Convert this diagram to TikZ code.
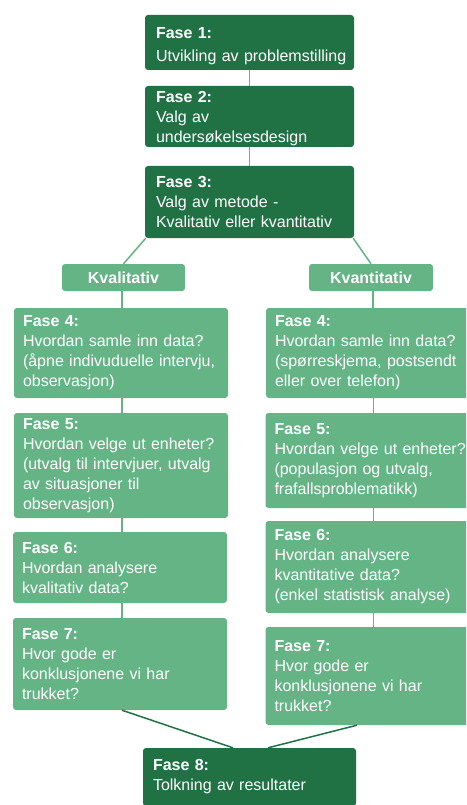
\documentclass[tikz,border=0pt]{standalone}
\usepackage{fontspec}
\setmainfont{Liberation Sans}
\usetikzlibrary{calc}
\definecolor{phasedark}{RGB}{32,114,69}
\definecolor{phaselight}{RGB}{100,180,133}
\begin{document}
\begin{tikzpicture}[x=1pt,y=-1pt,
  box/.style={rectangle, rounded corners=3pt, text=white, align=left,
    font=\fontsize{16}{20}\selectfont, inner ysep=0pt},
  darkbox/.style={box, fill=phasedark, inner xsep=11pt},
  lightbox/.style={box, fill=phaselight, inner xsep=9pt},
  tagbox/.style={rectangle, rounded corners=3pt, fill=phaselight, text=white,
    font=\fontsize{16}{20}\selectfont\bfseries, inner sep=0pt, align=center},
  link/.style={draw=phaselight, line width=1.5pt},
  darklink/.style={draw=phasedark, line width=1.5pt}]
\useasboundingbox (0,0) rectangle (466,805);
\clip (0,0) rectangle (466,805);

% common steps
\node[darkbox, text width=187pt, minimum height=55pt] (f1) at (249.5,42.5)
  {\rule{0pt}{18pt}\textbf{Fase 1:}\\[3pt]\mbox{Utvikling av problemstilling}};
\node[darkbox, text width=187pt, minimum height=61pt] (f2) at (249.5,116.5)
  {\rule{0pt}{16pt}\textbf{Fase 2:}\\Valg av\\undersøkelsesdesign};
\node[darkbox, text width=187pt, minimum height=72pt] (f3) at (249.5,202)
  {\textbf{Fase 3:}\\Valg av metode -\\Kvalitativ eller kvantitativ};

% branch labels
\node[tagbox, minimum width=123pt, minimum height=27pt] (kval) at (123.5,277.5) {Kvalitativ};
\node[tagbox, minimum width=124pt, minimum height=27pt] (kvan) at (371,277.5) {Kvantitativ};

% qualitative branch
\node[lightbox, text width=196pt, minimum height=90pt] (l4) at (121,353)
  {\textbf{Fase 4:}\\Hvordan samle inn data?\\(åpne indivuduelle intervju,\\observasjon)};
\node[lightbox, text width=196pt, minimum height=105pt] (l5) at (121,465.5)
  {\textbf{Fase 5:}\\Hvordan velge ut enheter?\\(utvalg til intervjuer, utvalg\\av situasjoner til\\observasjon)};
\node[lightbox, text width=196pt, minimum height=71pt] (l6) at (120,567.5)
  {\textbf{Fase 6:}\\Hvordan analysere\\kvalitativ data?};
\node[lightbox, text width=196pt, minimum height=92pt] (l7) at (120,664)
  {\textbf{Fase 7:}\\Hvor gode er\\konklusjonene vi har\\trukket?};

% quantitative branch
\node[lightbox, text width=197pt, minimum height=90pt] (r4) at (373.5,353)
  {\textbf{Fase 4:}\\Hvordan samle inn data?\\(spørreskjema, postsendt\\eller over telefon)};
\node[lightbox, text width=197pt, minimum height=95pt] (r5) at (373,460.5)
  {\textbf{Fase 5:}\\Hvordan velge ut enheter?\\(populasjon og utvalg,\\frafallsproblematikk)};
\node[lightbox, text width=197pt, minimum height=92pt] (r6) at (373,567)
  {\textbf{Fase 6:}\\Hvordan analysere\\kvantitative data?\\(enkel statistisk analyse)};
\node[lightbox, text width=197pt, minimum height=98pt] (r7) at (373,676)
  {\textbf{Fase 7:}\\Hvor gode er\\konklusjonene vi har\\trukket?};

% final step
\node[darkbox, inner xsep=10pt, text width=193pt, minimum height=58pt] (f8) at (249.5,777)
  {\textbf{Fase 8:}\\Tolkning av resultater};

% connectors: common trunk
\draw[link] (f1.south) -- (f2.north);
\draw[link] (f2.south) -- (f3.north);
\draw[link] ($(f3.south west)+(1,0)$) -- (kval.north);
\draw[link] ($(f3.south east)+(-1,0)$) -- (kvan.north);

% connectors: qualitative branch
\draw[link] ($(kval.south)+(-1.5,0)$) -- ++(0,17);
\draw[link] ($(l4.south)+(1,0)$) -- ++(0,15);
\draw[link] ($(l5.south)+(1,0)$) -- ++(0,14);
\draw[link] ($(l6.south)+(2,0)$) -- ++(0,15);

% connectors: quantitative branch
\draw[link] ($(kvan.south)+(2,0)$) -- ++(0,17);
\draw[link] (r4.south) -- ++(0,15);
\draw[link] ($(r5.south)+(0.5,0)$) -- ++(0,13);
\draw[link] ($(r6.south)+(0.5,0)$) -- ++(0,14);

% connectors: both branches into the last step
\draw[darklink] ($(l7.south)+(2,0)$) -- ($(f8.north)+(-16.5,0)$);
\draw[darklink] ($(r7.south)+(-16,0)$) -- ($(f8.north)+(18.5,0)$);
\end{tikzpicture}
\end{document}
